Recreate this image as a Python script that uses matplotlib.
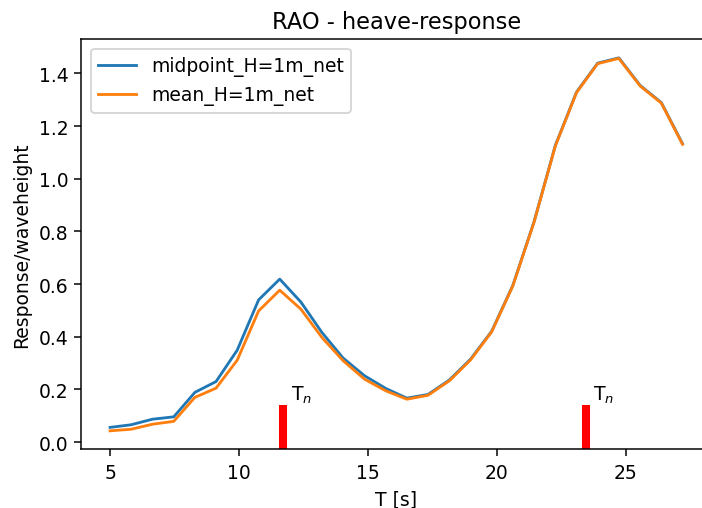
import numpy as np
import matplotlib
matplotlib.use("Agg")
import matplotlib.pyplot as plt

# wave periods [s]
T = [5.00, 5.82, 6.64, 7.47, 8.29, 9.11, 9.93, 10.76, 11.58, 12.40,
     13.22, 14.04, 14.87, 15.69, 16.51, 17.33, 18.16, 18.98, 19.80, 20.62,
     21.44, 22.27, 23.09, 23.91, 24.73, 25.56, 26.38, 27.20]

# heave RAO, midpoint of the net
rao_midpoint = [0.056, 0.066, 0.087, 0.096, 0.189, 0.230, 0.349, 0.540, 0.619, 0.532,
                0.416, 0.319, 0.252, 0.204, 0.167, 0.181, 0.236, 0.315, 0.421, 0.595,
                0.836, 1.127, 1.329, 1.439, 1.459, 1.354, 1.289, 1.133]

# heave RAO, mean over the net
rao_mean = [0.043, 0.049, 0.068, 0.079, 0.170, 0.205, 0.311, 0.498, 0.577, 0.505,
            0.397, 0.309, 0.239, 0.195, 0.163, 0.178, 0.233, 0.312, 0.419, 0.593,
            0.834, 1.125, 1.327, 1.437, 1.457, 1.352, 1.287, 1.131]

# natural periods
T_n = [11.72, 23.44]
tn_height = 0.14

DPI = 135
fig = plt.figure(figsize=(702 / DPI, 509 / DPI), dpi=DPI)
ax = fig.add_axes([0.116, 0.115, 0.897, 0.806])

ax.plot(T, rao_midpoint, label="midpoint_H=1m_net")
ax.plot(T, rao_mean, label="mean_H=1m_net")

y0, y1 = ax.get_ylim()
for tn in T_n:
    ax.axvline(tn, ymin=0, ymax=(tn_height - y0) / (y1 - y0), color="red",
               lw=4.3, solid_capstyle="butt")
    ax.text(tn + 0.3, tn_height, "T$_n$", va="bottom", fontsize=10)
ax.set_ylim(y0, y1)

ax.set_title("RAO - heave-response")
ax.set_xlabel("T [s]")
ax.set_ylabel("Response/waveheight")
ax.legend(loc="upper left")

fig.savefig("out.png", dpi=DPI)
